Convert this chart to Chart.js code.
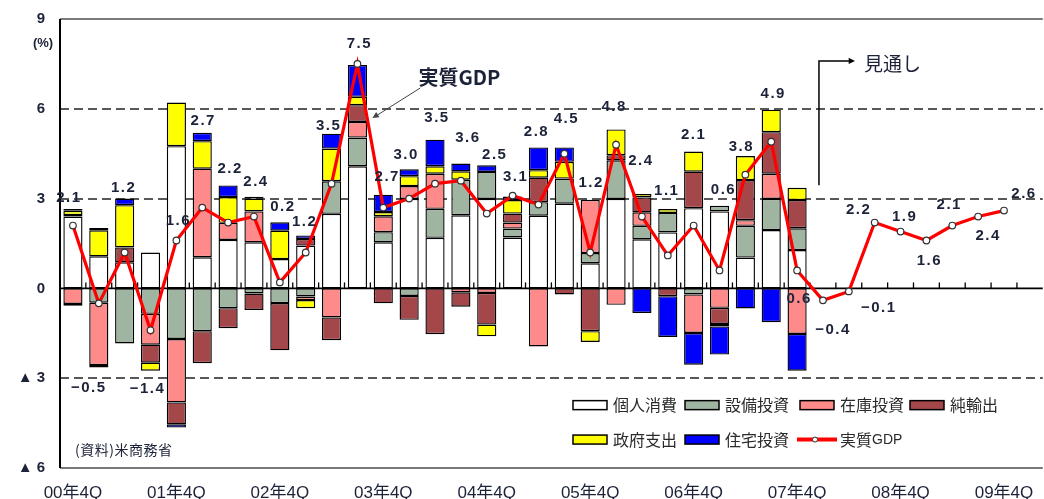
<!DOCTYPE html>
<html><head><meta charset="utf-8">
<script src="https://cdn.jsdelivr.net/npm/chart.js@4.4.0/dist/chart.umd.min.js"></script>
<style>html,body{margin:0;padding:0;overflow:hidden;background:#fff}#wrap{width:1048px;height:499px}</style>
</head><body><div id="wrap"><canvas id="c" width="1048" height="499" style="width:1048px;height:499px"></canvas></div>
<script>
const categories = ['00年4Q','01年1Q','01年2Q','01年3Q','01年4Q','02年1Q','02年2Q','02年3Q','02年4Q','03年1Q','03年2Q','03年3Q','03年4Q','04年1Q','04年2Q','04年3Q','04年4Q','05年1Q','05年2Q','05年3Q','05年4Q','06年1Q','06年2Q','06年3Q','06年4Q','07年1Q','07年2Q','07年3Q','07年4Q','08年1Q','08年2Q','08年3Q','08年4Q','09年1Q','09年2Q','09年3Q','09年4Q','10年1Q'];
const tickLabels = ['00年4Q','01年4Q','02年4Q','03年4Q','04年4Q','05年4Q','06年4Q','07年4Q','08年4Q','09年4Q'];
const yTicks = [9,6,3,0,-3,-6];

const consumption = [2.40,1.07,0.87,1.20,4.75,1.04,1.62,1.54,0.98,1.43,2.49,4.08,1.54,2.99,1.69,2.44,2.99,1.70,2.43,2.83,0.84,2.99,1.64,1.87,2.68,2.57,1.03,1.95,1.28,null,null,null,null,null,null,null,null,null];
const equipment = [0.05,-0.48,-1.84,-0.85,-1.69,-1.43,-0.66,-0.17,-0.49,-0.27,1.09,0.96,0.34,-0.25,0.97,1.19,0.90,0.30,0.45,0.84,0.34,1.29,0.45,0.65,-0.20,0.19,1.06,1.04,0.73,null,null,null,null,null,null,null,null,null];
const inventory = [-0.52,-2.08,null,-1.03,-2.12,2.96,0.57,1.03,null,-0.12,-0.97,0.52,0.53,0.43,1.17,-0.13,-0.15,0.20,-1.94,null,1.78,-0.55,0.45,null,-1.29,-0.65,0.19,0.84,-1.52,null,null,null,null,null,null,null,null,null];
const netExports = [-0.06,-0.08,0.50,-0.60,-0.73,-1.07,-0.67,-0.55,-1.58,0.22,-0.76,0.56,-0.50,-0.80,-1.53,-0.48,-1.06,0.30,0.82,-0.20,-1.43,0.17,0.50,-0.26,1.22,-0.54,1.34,1.39,0.94,null,null,null,null,null,null,null,null,null];
const government = [0.14,0.87,1.41,-0.27,1.46,0.92,0.86,0.43,0.95,-0.27,1.09,0.28,0.14,0.33,0.25,0.28,-0.39,0.45,0.25,0.56,-0.36,0.86,0.11,0.13,0.67,-0.08,0.80,0.75,0.41,null,null,null,null,null,null,null,null,null];
const housing = [0.06,0.08,0.22,null,-0.11,0.28,0.39,0.06,0.28,0.12,0.50,1.06,0.58,0.23,0.89,0.26,0.22,0.12,0.76,0.48,null,null,-0.82,-1.36,-1.06,-0.94,-0.67,-1.13,-1.23,null,null,null,null,null,null,null,null,null];
const gdp = [2.1,-0.5,1.2,-1.4,1.6,2.7,2.2,2.4,0.2,1.2,3.5,7.5,2.7,3.0,3.5,3.6,2.5,3.1,2.8,4.5,1.2,4.8,2.4,1.1,2.1,0.6,3.8,4.9,0.6,-0.4,-0.1,2.2,1.9,1.6,2.1,2.4,2.6,null];

// label placement offsets (px) relative to each GDP point
const labelOffsets = [[-5,-28],[-11,84],[-2,-65],[-4,59],[1,-20],[0,-87],[1,-54],[1,-35],[2,-76],[-2,-31],[-4,-58],[1,-20],[3,-31],[-4,-44],[1,-66],[6,-43],[7,-59],[2,-19],[-3,-73],[1,-35],[0,-70],[-3,-38],[-2,-56],[-2,-65],[-1,-91],[3,-81],[-5,-28],[1,-48],[1,28],[9,29],[29,16],[-17,-13],[3,-15],[2,20],[-4,-21],[9,19],[19,-17]];

const FONT = '"Liberation Sans", Arial, "Noto Sans CJK JP", sans-serif';
const CJK = '"Noto Sans CJK JP", "Liberation Sans", sans-serif';
const TXT = '#1c2238';

const barBase = {type:'bar', stack:'comp', borderColor:'#000', borderWidth:1.4, borderSkipped:false, barPercentage:0.74, categoryPercentage:1.0, order:2};
const datasets = [
  Object.assign({label:'個人消費', data:consumption, backgroundColor:'#ffffff'}, barBase),
  Object.assign({label:'設備投資', data:equipment, backgroundColor:'#a0b4a2'}, barBase),
  Object.assign({label:'在庫投資', data:inventory, backgroundColor:'#ff8a8a'}, barBase),
  Object.assign({label:'純輸出', data:netExports, backgroundColor:'#a3474b'}, barBase),
  Object.assign({label:'政府支出', data:government, backgroundColor:'#ffff00'}, barBase),
  Object.assign({label:'住宅投資', data:housing, backgroundColor:'#0000ff'}, barBase),
  {type:'line', label:'実質GDP', data:gdp, stack:'gdp', borderColor:'#ff0000', borderWidth:3.2, pointRadius:3.3, pointBorderWidth:1.2, pointBorderColor:'#333', pointBackgroundColor:'#fff', tension:0, order:0, spanGaps:false}
];

function fmt(v){ return v < 0 ? '−' + (-v).toFixed(1) : v.toFixed(1); }

function arrowHead(ctx, x1, y1, x2, y2, size){
  const a = Math.atan2(y2-y1, x2-x1);
  ctx.beginPath();
  ctx.moveTo(x2, y2);
  ctx.lineTo(x2 - size*Math.cos(a-0.45), y2 - size*Math.sin(a-0.45));
  ctx.lineTo(x2 - size*Math.cos(a+0.45), y2 - size*Math.sin(a+0.45));
  ctx.closePath();
  ctx.fill();
}

const deco = {
  id:'deco',
  beforeDatasetsDraw(chart){
    const {ctx, chartArea:a, scales:{x,y}} = chart;
    ctx.save();
    ctx.strokeStyle = '#222'; ctx.lineWidth = 1.6; ctx.setLineDash([9,5]);
    [6,3,-3].forEach(v => { const py = Math.round(y.getPixelForValue(v)); ctx.beginPath(); ctx.moveTo(a.left, py); ctx.lineTo(a.right, py); ctx.stroke(); });
    ctx.setLineDash([]);
    ctx.strokeStyle = '#7a7a7a'; ctx.lineWidth = 2;
    ctx.beginPath(); ctx.moveTo(a.left, a.top); ctx.lineTo(a.right, a.top); ctx.stroke();
    ctx.beginPath(); ctx.moveTo(a.left, a.bottom); ctx.lineTo(a.right, a.bottom); ctx.stroke();
    const z = y.getPixelForValue(0);
    ctx.strokeStyle = '#000'; ctx.lineWidth = 1.6;
    ctx.beginPath(); ctx.moveTo(a.left, z); ctx.lineTo(a.right, z); ctx.stroke();
    ctx.lineWidth = 1.3;
    for (let i = 1; i < categories.length; i++){
      const px = (x.getPixelForValue(i-1) + x.getPixelForValue(i)) / 2;
      ctx.beginPath(); ctx.moveTo(px, z); ctx.lineTo(px, z-6); ctx.stroke();
    }
    ctx.lineWidth = 2;
    ctx.beginPath(); ctx.moveTo(a.left, a.top); ctx.lineTo(a.left, a.bottom); ctx.stroke();
    ctx.restore();
  },
  afterDatasetsDraw(chart){
    const {ctx, chartArea:a, scales:{x,y}} = chart;
    ctx.save();
    ctx.fillStyle = TXT; ctx.font = 'bold 13px ' + FONT; ctx.textAlign = 'center'; ctx.textBaseline = 'middle';
    ctx.fillText('(%)', 43, y.getPixelForValue(9) + 24);
    const meta = chart.getDatasetMeta(6);
    ctx.font = 'bold 15px ' + FONT; ctx.letterSpacing = '1.5px';
    gdp.forEach((v, i) => {
      if (v === null) return;
      const p = meta.data[i];
      const o = labelOffsets[i];
      ctx.fillText(fmt(v), p.x + o[0] + 1, p.y + o[1]);
    });
    ctx.letterSpacing = '0px';
    const p11 = meta.data[11];
    ctx.strokeStyle = '#444'; ctx.fillStyle = '#444'; ctx.lineWidth = 1;
    ctx.beginPath(); ctx.moveTo(p11.x + 63, p11.y + 24); ctx.lineTo(p11.x + 17, p11.y + 53); ctx.stroke();
    arrowHead(ctx, p11.x + 63, p11.y + 24, p11.x + 15, p11.y + 54, 7);
    ctx.fillStyle = TXT; ctx.font = 'bold 20px ' + CJK; ctx.textAlign = 'left';
    ctx.fillText('実質GDP', p11.x + 61, p11.y + 14);
    const vx = x.getPixelForValue(29) - 4;
    const yTop = y.getPixelForValue(7.6), yBot = y.getPixelForValue(3.45);
    ctx.strokeStyle = '#000'; ctx.fillStyle = '#000'; ctx.lineWidth = 1.5;
    ctx.beginPath(); ctx.moveTo(vx, yBot); ctx.lineTo(vx, yTop); ctx.lineTo(vx + 30, yTop); ctx.stroke();
    arrowHead(ctx, vx, yTop, vx + 36, yTop, 7);
    ctx.fillStyle = TXT; ctx.font = '19px ' + CJK; ctx.textAlign = 'left';
    ctx.fillText('見通し', vx + 45, yTop + 3);
    ctx.font = '14px ' + CJK; ctx.letterSpacing = '0.5px';
    ctx.fillText('(資料)米商務省', a.left + 15, y.getPixelForValue(-5.4));
    ctx.letterSpacing = '0px';
    const cols = [573, 685, 800, 910];
    const rows = [y.getPixelForValue(-3.9), y.getPixelForValue(-5.05)];
    ctx.font = '16px ' + CJK;
    chart.data.datasets.forEach((ds, i) => {
      const col = i % 4, row = Math.floor(i / 4);
      const sx = cols[col], sy = rows[row];
      if (ds.type === 'line'){
        ctx.strokeStyle = ds.borderColor; ctx.lineWidth = 4;
        ctx.beginPath(); ctx.moveTo(sx - 3, sy); ctx.lineTo(sx + 37, sy); ctx.stroke();
        ctx.fillStyle = '#fff'; ctx.strokeStyle = '#333'; ctx.lineWidth = 1;
        ctx.beginPath(); ctx.arc(sx + 15, sy, 2.5, 0, Math.PI*2); ctx.fill(); ctx.stroke();
      } else {
        ctx.fillStyle = ds.backgroundColor; ctx.strokeStyle = '#000'; ctx.lineWidth = 1.5;
        ctx.fillRect(sx, sy - 4.5, 34, 9); ctx.strokeRect(sx, sy - 4.5, 34, 9);
      }
      ctx.fillStyle = '#2a2a2a'; ctx.textAlign = 'left'; ctx.textBaseline = 'middle';
      ctx.fillText(ds.label.replace('GDP',''), sx + 40, sy);
      if (ds.label.indexOf('GDP') >= 0){
        const w = ctx.measureText(ds.label.replace('GDP','')).width;
        ctx.font = '14px ' + FONT;
        ctx.fillText('GDP', sx + 40 + w, sy + 1);
        ctx.font = '16px ' + CJK;
      }
    });
    ctx.restore();
  }
};

new Chart(document.getElementById('c'), {
  data: {labels: categories, datasets},
  options: {
    responsive:false, animation:false, devicePixelRatio:1,
    layout:{padding:{top:19, right:0, left:0, bottom:0}},
    plugins:{legend:{display:false}, tooltip:{enabled:false}},
    scales:{
      x:{stacked:true, offset:true, grid:{display:false, drawTicks:false}, border:{display:false},
         ticks:{autoSkip:false, maxRotation:0, minRotation:0, padding:15, color:TXT, font:{size:17, family:FONT},
           callback:(v, i) => tickLabels.includes(categories[i]) ? categories[i] : ''},
         afterFit:(s) => { s.height = 31; s.paddingLeft = 0; s.paddingRight = 0; }},
      y:{stacked:true, min:-6, max:9, grid:{display:false, drawTicks:false}, border:{display:false},
         afterBuildTicks:(s) => { s.ticks = yTicks.map(v => ({value:v})); },
         ticks:{padding:15, color:TXT, font:{size:15, weight:'bold', family:FONT},
           callback:(v) => v < 0 ? '▲ ' + (-v) : '' + v},
         afterFit:(s) => { s.width = 60; s.paddingTop = 0; s.paddingBottom = 0; }}
    }
  },
  plugins:[deco]
});
</script>
</body></html>
